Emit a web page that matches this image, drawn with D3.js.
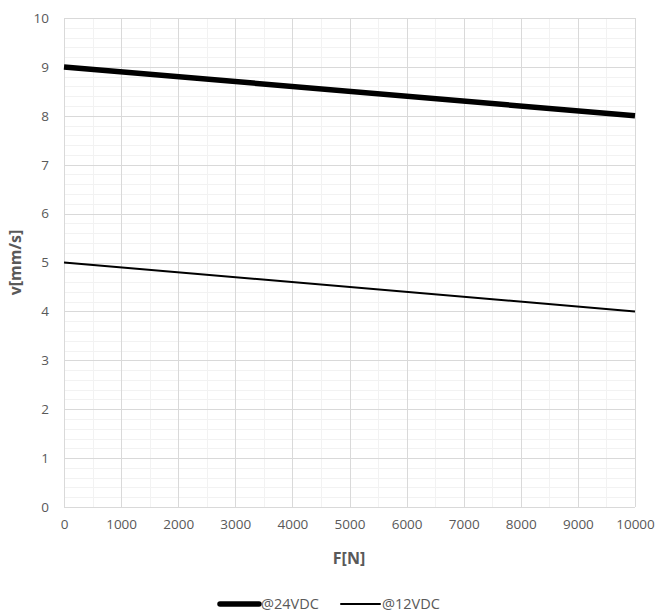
<!DOCTYPE html>
<html><head><meta charset="utf-8">
<script src="https://cdn.jsdelivr.net/npm/d3@7"></script>
<style>body{margin:0;background:#fff}svg{display:block}text{font-family:"Open Sans",sans-serif}</style>
</head><body>
<svg id="c" width="658" height="615"></svg>
<script>
const forceN = [0, 10000];
const v24 = [9, 8];
const v12 = [5, 4];
const seriesNames = ["@24VDC", "@12VDC"];
const xTicks = [0,1000,2000,3000,4000,5000,6000,7000,8000,9000,10000];
const yTicks = [0,1,2,3,4,5,6,7,8,9,10];

const svg = d3.select("#c");
const L = 64, R = 635, T = 18, B = 507;
const x = d3.scaleLinear().domain([0,10000]).range([L,R]);
const y = d3.scaleLinear().domain([0,10]).range([B,T]);

const g = svg.append("g");
// minor grid
const xMinor = d3.range(500, 10000, 1000);
const yMinor = d3.range(0, 10.001, 0.2).filter(v => Math.abs(v - Math.round(v)) > 0.01);
g.selectAll(".xm").data(xMinor).join("line").attr("x1",d=>Math.round(x(d))+0.5).attr("x2",d=>Math.round(x(d))+0.5).attr("y1",T).attr("y2",B).attr("stroke","#f2f2f2");
g.selectAll(".ym").data(yMinor).join("line").attr("y1",d=>Math.round(y(d))+0.5).attr("y2",d=>Math.round(y(d))+0.5).attr("x1",L).attr("x2",R).attr("stroke","#f2f2f2");
// major grid
g.selectAll(".xM").data(xTicks).join("line").attr("x1",d=>Math.round(x(d))+0.5).attr("x2",d=>Math.round(x(d))+0.5).attr("y1",T).attr("y2",B).attr("stroke","#d9d9d9");
g.selectAll(".yM").data(yTicks).join("line").attr("y1",d=>Math.round(y(d))+0.5).attr("y2",d=>Math.round(y(d))+0.5).attr("x1",L).attr("x2",R).attr("stroke","#d9d9d9");

// axes labels
const xa = svg.append("g").attr("transform",`translate(0,${B})`).call(d3.axisBottom(x).tickValues(xTicks).tickSize(0).tickPadding(12).tickFormat(d3.format("d")));
xa.select(".domain").remove();
xa.selectAll("text").attr("fill","#595959").style("font-size","13.5px");
const ya = svg.append("g").attr("transform",`translate(${L},0)`).call(d3.axisLeft(y).tickValues(yTicks).tickSize(0).tickPadding(15));
ya.select(".domain").remove();
ya.selectAll("text").attr("fill","#595959").style("font-size","13.5px");

svg.append("text").attr("x",349).attr("y",564).attr("text-anchor","middle").attr("font-weight","bold").attr("fill","#595959").style("font-size","16px").text("F[N]");
svg.append("text").attr("transform",`translate(21,${(T+B)/2}) rotate(-90)`).attr("text-anchor","middle").attr("font-weight","bold").attr("fill","#595959").style("font-size","16px").text("v[mm/s]");

const line = d3.line().x(d=>x(d[0])).y(d=>y(d[1]));
const s24 = forceN.map((f,i)=>[f,v24[i]]);
const s12 = forceN.map((f,i)=>[f,v12[i]]);
svg.append("path").attr("d",line(s24)).attr("fill","none").attr("stroke","#000").attr("stroke-width",5.5);
svg.append("path").attr("d",line(s12)).attr("fill","none").attr("stroke","#000").attr("stroke-width",2);

// legend
const leg = [{n:seriesNames[0],w:5.5,x0:220},{n:seriesNames[1],w:2,x0:341}];
leg.forEach(l=>{
  svg.append("line").attr("x1",l.x0).attr("x2",l.x0+39).attr("y1",604).attr("y2",604).attr("stroke","#000").attr("stroke-width",l.w).attr("stroke-linecap","round");
  svg.append("text").attr("x",l.x0+41).attr("y",609).attr("fill","#595959").style("font-size","14.5px").text(l.n);
});
</script>
</body></html>
